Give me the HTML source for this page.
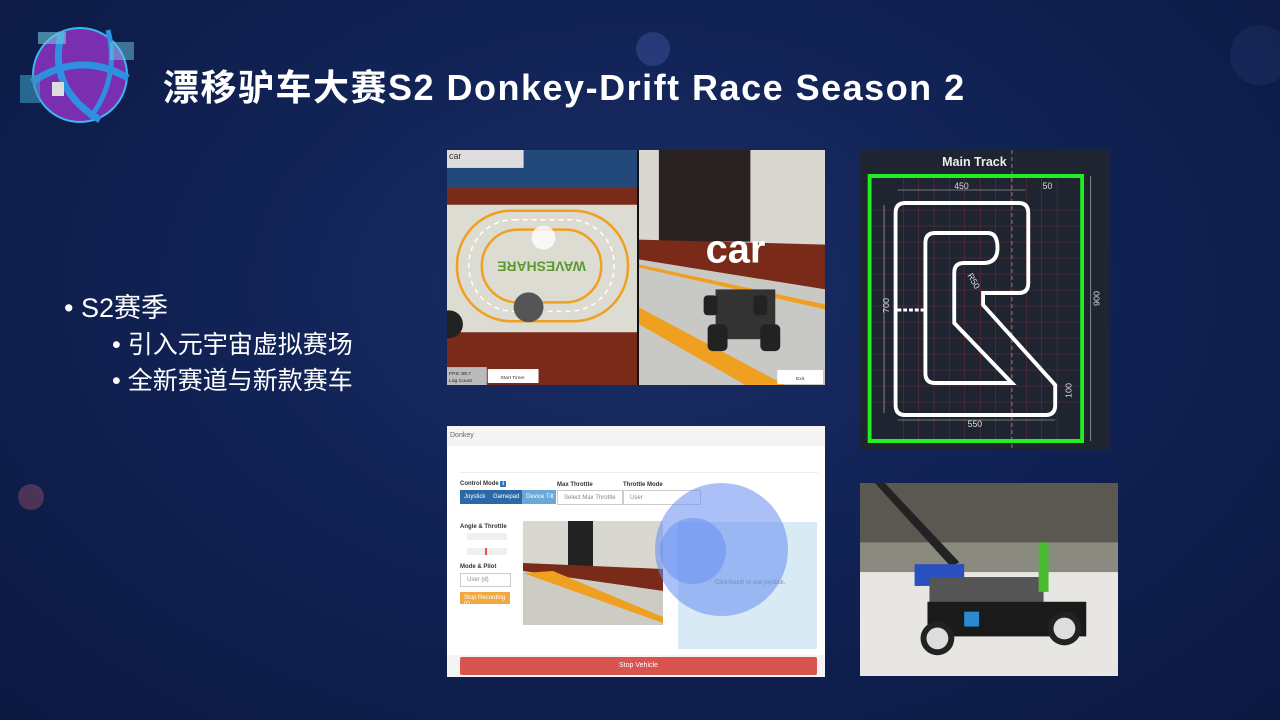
<!DOCTYPE html>
<html><head><meta charset="utf-8"><style>
html,body{margin:0;padding:0}
body{width:1280px;height:720px;position:relative;overflow:hidden;background:radial-gradient(ellipse at 50% 40%,#1a2e66 0%,#112255 45%,#0b1840 100%);font-family:"Liberation Sans","Noto Sans CJK SC",sans-serif}
.a{position:absolute}
.t{color:#fff;font-weight:bold;font-size:36px;left:163px;top:59px;white-space:nowrap;letter-spacing:1.5px}
.b{color:#fff;white-space:nowrap}
</style></head><body>
<div class="a" style="left:1230px;top:25px;width:60px;height:60px;border-radius:50%;background:rgba(90,110,180,.12)"></div>
<div class="a" style="left:636px;top:32px;width:34px;height:34px;border-radius:50%;background:rgba(90,110,200,.3)"></div>
<div class="a" style="left:18px;top:484px;width:26px;height:26px;border-radius:50%;background:rgba(170,90,110,.4)"></div>
<svg class="a" style="left:10px;top:20px" width="140" height="120" viewBox="0 0 140 120">
<circle cx="70" cy="55" r="47" fill="#7a2fb0"/><circle cx="70" cy="55" r="47" fill="none" stroke="#3ab8f0" stroke-width="2"/>
<path d="M22 62 Q70 30 118 58" stroke="#2f8fe0" stroke-width="7" fill="none"/>
<path d="M52 12 Q36 68 90 100" stroke="#2f8fe0" stroke-width="7" fill="none"/>
<path d="M98 10 Q110 58 80 98" stroke="#2f8fe0" stroke-width="5" fill="none"/>
<rect x="28" y="12" width="28" height="12" fill="#6ec8e0" opacity=".6"/>
<rect x="10" y="55" width="20" height="28" fill="#3a9ac0" opacity=".6"/>
<rect x="100" y="22" width="24" height="18" fill="#6ec8e0" opacity=".5"/>
<rect x="42" y="62" width="12" height="14" fill="#ddd"/>
</svg>
<div class="a t">漂移驴车大赛S2 Donkey-Drift Race Season 2</div>
<div class="a b" style="left:64px;top:286px;font-size:27px">• S2赛季</div>
<div class="a b" style="left:112px;top:325px;font-size:25px">• 引入元宇宙虚拟赛场</div>
<div class="a b" style="left:112px;top:361px;font-size:25px">• 全新赛道与新款赛车</div>

<svg class="a" style="left:447px;top:150px" width="378" height="235" viewBox="0 0 380 236" preserveAspectRatio="none">
<rect width="192" height="236" fill="#7a2a18"/>
<rect width="192" height="38" fill="#23487a"/>
<rect y="55" width="192" height="128" fill="#dcdcd2"/>
<rect x="10" y="61" width="172" height="111" rx="55" fill="none" stroke="#f0a020" stroke-width="2.5"/>
<rect x="22" y="70" width="146" height="92" rx="45" fill="none" stroke="#fff" stroke-width="1.5" stroke-dasharray="5 4"/>
<rect x="35" y="80" width="120" height="73" rx="36" fill="none" stroke="#f0a020" stroke-width="2.5"/>
<circle cx="97" cy="88" r="12" fill="#fff" opacity=".8"/>
<text x="95" y="120" font-size="14" font-weight="bold" fill="#5a9a30" text-anchor="middle" transform="rotate(180 95 116)">WAVESHARE</text>
<circle cx="82" cy="158" r="15" fill="#555"/><circle cx="2" cy="175" r="14" fill="#222"/>
<rect width="77" height="18" fill="#ddd"/><text x="2" y="9" font-size="9" fill="#333">car</text>
<rect y="218" width="40" height="18" fill="#bbb"/><text x="2" y="226" font-size="5" fill="#222">FPS: 59.7</text><text x="2" y="233" font-size="5" fill="#222">Log Count</text>
<rect x="41" y="220" width="51" height="14" fill="#fff"/><text x="66" y="230" font-size="5" fill="#333" text-anchor="middle">Start Timer</text>
<rect x="193" width="187" height="236" fill="#d8d8d0"/>
<rect x="213" y="0" width="92" height="92" fill="#2a2220"/>
<polygon points="193,90 380,95 380,140 193,110" fill="#7a2a18"/>
<polygon points="193,110 380,140 380,236 193,236" fill="#c8c8c4"/>
<polygon points="193,158 193,175 300,236 340,236" fill="#f0a020"/>
<polygon points="193,115 380,155 380,160 193,118" fill="#f0a020"/>
<rect x="270" y="140" width="60" height="50" fill="#333"/>
<rect x="262" y="175" width="20" height="27" rx="5" fill="#222"/><rect x="315" y="175" width="20" height="27" rx="5" fill="#222"/>
<rect x="258" y="146" width="14" height="20" rx="4" fill="#222"/><rect x="308" y="146" width="14" height="20" rx="4" fill="#222"/>
<text x="290" y="113" font-size="40" font-weight="bold" fill="#fff" text-anchor="middle">car</text>
<rect x="332" y="221" width="46" height="14" fill="#fff"/><text x="355" y="231" font-size="5" fill="#333" text-anchor="middle">Exit</text>
<rect x="191" width="2" height="236" fill="#111"/>
</svg>

<svg class="a" style="left:860px;top:150px" width="250" height="300" viewBox="860 150 260 300" preserveAspectRatio="none">
<rect x="860" y="150" width="260" height="300" fill="#1e2530"/>
<g stroke="#a03040" stroke-width=".5" opacity=".7">
<path d="M905 175V440M921 175V440M937 175V440M953 175V440M969 175V440M985 175V440M1001 175V440M1017 175V440M1033 175V440M1049 175V440M1065 175V440"/>
<path d="M870 210H1090M870 226H1090M870 242H1090M870 258H1090M870 274H1090M870 290H1090M870 306H1090M870 322H1090M870 338H1090M870 354H1090M870 370H1090M870 386H1090M870 402H1090"/>
</g>
<line x1="1018" y1="150" x2="1018" y2="450" stroke="#aaa" stroke-dasharray="4 3" stroke-width=".7"/>
<text x="979" y="166" font-size="13" font-weight="bold" fill="#eee" text-anchor="middle">Main Track</text>
<rect x="870" y="176" width="221" height="265" fill="none" stroke="#22ee22" stroke-width="4"/>
<path d="M907 203H1025Q1035 203 1035 213V283Q1035 293 1025 293H988V305L1063 385V405Q1063 415 1053 415H907Q897 415 897 405V213Q897 203 907 203Z" fill="none" stroke="#fff" stroke-width="4"/>
<path d="M938 233H993Q1003 233 1003 248Q1003 263 988 263H968Q958 263 958 273V323L1018 383H938Q928 383 928 373V243Q928 233 938 233Z" fill="none" stroke="#fff" stroke-width="4"/>
<path d="M899 310H926" stroke="#fff" stroke-width="3" stroke-dasharray="4 2"/>
<g font-size="9" fill="#ddd">
<text x="958" y="189">450</text><text x="1050" y="189">50</text><text x="972" y="427">550</text>
<text x="885" y="318" transform="rotate(-90 885 313)">700</text>
<text x="1108" y="313" transform="rotate(-90 1105 309)">900</text>
<text x="1077" y="405" transform="rotate(-90 1075 400)">100</text>
<text x="970" y="278" transform="rotate(60 973 278)">R50</text>
</g>
<g stroke="#ccc" stroke-width=".6" fill="none"><path d="M899 190H1032M885 205V413M899 420H1063M1100 176V441"/></g>
</svg>

<div class="a" style="left:447px;top:426px;width:378px;height:251px;background:#fff;font-size:6px;color:#333">
 <div class="a" style="left:0;top:0;width:378px;height:20px;background:#f4f4f4;font-size:7px;color:#666"><span style="position:absolute;left:3px;top:6px">Donkey</span></div>
 <div class="a" style="left:13px;top:46px;width:358px;border-top:1px solid #eee"></div>
 <div class="a" style="left:13px;top:55px;font-weight:bold">Control Mode <span style="background:#2a78c0;color:#fff;padding:0 2px">i</span></div>
 <div class="a" style="left:13px;top:64px;width:96px;height:14px;background:#2a68a8"></div>
 <div class="a" style="left:75px;top:64px;width:34px;height:14px;background:#6aa8d8"></div>
 <div class="a" style="left:17px;top:68px;color:#fff">Joystick</div><div class="a" style="left:46px;top:68px;color:#fff">Gamepad</div><div class="a" style="left:79px;top:68px;color:#fff">Device Tilt</div>
 <div class="a" style="left:110px;top:56px;font-weight:bold">Max Throttle</div>
 <div class="a" style="left:110px;top:64px;width:64px;height:13px;border:1px solid #ccc;color:#888"><span style="position:absolute;left:6px;top:4px">Select Max Throttle</span></div>
 <div class="a" style="left:176px;top:56px;font-weight:bold">Throttle Mode</div>
 <div class="a" style="left:176px;top:64px;width:76px;height:13px;border:1px solid #ccc;color:#888"><span style="position:absolute;left:6px;top:4px">User</span></div>
 <div class="a" style="left:13px;top:98px;font-weight:bold">Angle &amp; Throttle</div>
 <div class="a" style="left:20px;top:107px;width:40px;height:7px;background:#f0f0f0"></div>
 <div class="a" style="left:20px;top:122px;width:40px;height:7px;background:#f0f0f0"></div>
 <div class="a" style="left:38px;top:122px;width:2px;height:7px;background:#e05050"></div>
 <div class="a" style="left:13px;top:138px;font-weight:bold">Mode &amp; Pilot</div>
 <div class="a" style="left:13px;top:147px;width:49px;height:12px;border:1px solid #ccc;color:#888"><span style="position:absolute;left:6px;top:3px">User (d)</span></div>
 <div class="a" style="left:13px;top:166px;width:50px;height:12px;background:#f0a840;color:#fff"><span style="position:absolute;left:4px;top:3px">Stop Recording (r)</span></div>
 <svg class="a" style="left:76px;top:95px" width="140" height="104" viewBox="0 0 140 104">
  <rect width="140" height="104" fill="#d8d8d0"/><rect x="45" width="25" height="45" fill="#222"/>
  <polygon points="0,42 140,48 140,70 0,50" fill="#7a2a18"/><polygon points="0,50 140,70 140,104 0,104" fill="#ccccc4"/>
  <polygon points="0,52 30,50 140,96 140,102" fill="#f0a020"/>
 </svg>
 <div class="a" style="left:231px;top:96px;width:139px;height:127px;background:#d8ebf5"></div>
 <div class="a" style="left:268px;top:154px;color:#888">Click/touch to use joystick.</div>
 <div class="a" style="left:208px;top:57px;width:133px;height:133px;border-radius:50%;background:rgba(100,140,240,.55)"></div>
 <div class="a" style="left:213px;top:92px;width:66px;height:66px;border-radius:50%;background:rgba(100,140,240,.5)"></div>
 <div class="a" style="left:0;top:229px;width:378px;height:22px;background:#f4f4f4"></div>
 <div class="a" style="left:13px;top:231px;width:357px;height:18px;background:#d9534f;color:#fff;font-size:7px;text-align:center;line-height:18px;border-radius:2px">Stop Vehicle</div>
</div>

<svg class="a" style="left:860px;top:483px" width="258" height="193" viewBox="0 0 260 195" preserveAspectRatio="none">
<rect width="260" height="195" fill="#8a8a80"/>
<rect width="260" height="60" fill="#5a5850"/>
<rect x="0" y="90" width="260" height="105" fill="#e8e6e2"/>
<polygon points="15,0 25,0 100,80 92,85" fill="#222"/>
<rect x="55" y="82" width="50" height="22" fill="#2a50c0"/>
<rect x="70" y="95" width="115" height="30" fill="#555"/>
<rect x="68" y="120" width="160" height="35" fill="#1a1a1a"/>
<rect x="180" y="60" width="10" height="50" fill="#4aba30"/>
<circle cx="78" cy="157" r="17" fill="#222"/><circle cx="78" cy="157" r="11" fill="#ddd"/>
<circle cx="206" cy="147" r="17" fill="#222"/><circle cx="206" cy="147" r="11" fill="#ddd"/>
<rect x="105" y="130" width="15" height="15" fill="#2a8ad0"/>
</svg>
</body></html>
